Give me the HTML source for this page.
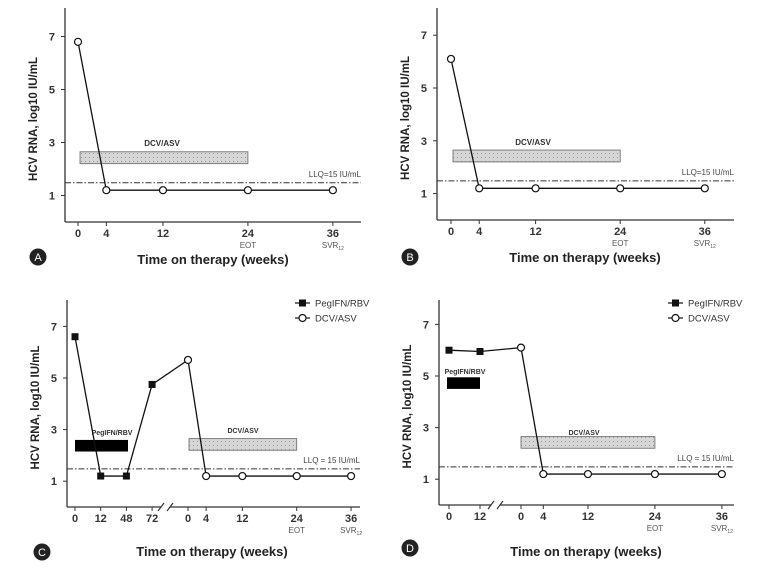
<!DOCTYPE html>
<html><head><meta charset="utf-8">
<style>
html,body{margin:0;padding:0;background:#fff;}
svg{display:block;font-family:"Liberation Sans",Arial,sans-serif;}
</style></head>
<body>
<svg id="fig" width="779" height="570" viewBox="0 0 779 570">
<defs>
<pattern id="hatch" width="4" height="4" patternUnits="userSpaceOnUse">
<rect width="4" height="4" fill="#d6d6d6"/><rect x="1" y="1" width="1" height="1" fill="#9a9a9a"/>
</pattern>
</defs>
</svg>
<script>
// ---- data ----
const yTicks = [1, 3, 5, 7];
const llqValue = 1.48;
// Panel A
const aWeeks = [0, 4, 12, 24, 36];
const aValues = [6.8, 1.2, 1.2, 1.2, 1.2];
// Panel B
const bWeeks = [0, 4, 12, 24, 36];
const bValues = [6.1, 1.2, 1.2, 1.2, 1.2];
// Panel C
const cPegLabels = ['0', '12', '48', '72'];
const cPegValues = [6.6, 1.2, 1.2, 4.75];
const cDcvWeeks = [0, 4, 12, 24, 36];
const cDcvValues = [5.7, 1.2, 1.2, 1.2, 1.2];
// Panel D
const dPegLabels = ['0', '12'];
const dPegValues = [6.0, 5.95];
const dDcvWeeks = [0, 4, 12, 24, 36];
const dDcvValues = [6.1, 1.2, 1.2, 1.2, 1.2];
const xTickWeeks = [0, 4, 12, 24, 36];

const NS = 'http://www.w3.org/2000/svg';
const svg = document.getElementById('fig');
function mk(tag, attrs, parent, text) {
  const e = document.createElementNS(NS, tag);
  for (const k in attrs) e.setAttribute(k, attrs[k]);
  if (text !== undefined) e.textContent = text;
  (parent || svg).appendChild(e);
  return e;
}

function panel(cfg) {
  const g = mk('g', {});
  
  
  const y = v => cfg.y0 - cfg.yu * v;
  const xw = w => cfg.dx0 + cfg.dxs * w;           // DCV weeks
  const xp = i => cfg.px0 + cfg.pxs * i;           // PegIFN categories
  // axes
  const ax = mk('line', {x1: cfg.ax, y1: cfg.top, x2: cfg.ax, y2: cfg.y0, stroke: '#333', 'stroke-width': 1.3}, g);
   
  if (cfg.brk) {
    const x1 = mk('line', {x1: cfg.ax, y1: cfg.y0, x2: cfg.brk[0], y2: cfg.y0, stroke: '#333', 'stroke-width': 1.3}, g);
     
    mk('line', {x1: cfg.brk[1], y1: cfg.y0, x2: cfg.axEnd, y2: cfg.y0, stroke: '#333', 'stroke-width': 1.3}, g);
    const bk = mk('g', {}, g);
     
    mk('line', {x1: cfg.brk[0] - 3, y1: cfg.y0 + 4, x2: cfg.brk[0] + 3, y2: cfg.y0 - 4, stroke: '#333', 'stroke-width': 1.2}, bk);
    mk('line', {x1: cfg.brk[1] - 3, y1: cfg.y0 + 4, x2: cfg.brk[1] + 3, y2: cfg.y0 - 4, stroke: '#333', 'stroke-width': 1.2}, bk);
  } else {
    const x1 = mk('line', {x1: cfg.ax, y1: cfg.y0, x2: cfg.axEnd, y2: cfg.y0, stroke: '#333', 'stroke-width': 1.3}, g);
     
  }
  // y ticks
  yTicks.forEach(v => {
    mk('line', {x1: cfg.ax - 4, y1: y(v), x2: cfg.ax, y2: y(v), stroke: '#333'}, g);
    const t = mk('text', {x: cfg.ax - 10, y: y(v) + 4, 'text-anchor': 'end', 'font-size': 11, 'font-weight': 'bold', fill: '#333'}, g, String(v));
     
  });
  const yt = mk('text', {transform: `translate(${cfg.ax - 28},${(cfg.top + cfg.y0) / 2 + 4}) rotate(-90)`, 'text-anchor': 'middle', 'font-size': 11.5, 'font-weight': 'bold', fill: '#222'}, g, 'HCV RNA, log10 IU/mL');
   
  // x ticks
  const tickY = cfg.y0 + 15;
  if (cfg.pegLabels) cfg.pegLabels.forEach((l, i) => {
    mk('line', {x1: xp(i), y1: cfg.y0, x2: xp(i), y2: cfg.y0 + 4, stroke: '#333'}, g);
    const t = mk('text', {x: xp(i), y: tickY, 'text-anchor': 'middle', 'font-size': 11, 'font-weight': 'bold', fill: '#333'}, g, l);
     
  });
  xTickWeeks.forEach(w => {
    mk('line', {x1: xw(w), y1: cfg.y0, x2: xw(w), y2: cfg.y0 + 4, stroke: '#333'}, g);
    const t = mk('text', {x: xw(w), y: tickY, 'text-anchor': 'middle', 'font-size': 11, 'font-weight': 'bold', fill: '#333'}, g, String(w));
     
  });
  const eot = mk('text', {x: xw(24), y: tickY + 11, 'text-anchor': 'middle', 'font-size': 8, fill: '#555'}, g, 'EOT');
   
  const svr = mk('text', {x: xw(36), y: tickY + 11, 'text-anchor': 'middle', 'font-size': 8, fill: '#555'}, g);
   
  mk('tspan', {}, svr, 'SVR');
  mk('tspan', {'font-size': 5, dy: 2}, svr, '12');
  const xt = mk('text', {x: cfg.titleX, y: cfg.titleY, 'text-anchor': 'middle', 'font-size': 13, 'font-weight': 'bold', fill: '#222'}, g, 'Time on therapy (weeks)');
   
  // panel badge
  const bg = mk('g', {}, g);
   
  mk('circle', {cx: cfg.badge[0], cy: cfg.badge[1], r: 8.5, fill: '#222'}, bg);
  mk('text', {x: cfg.badge[0], y: cfg.badge[1] + 4, 'text-anchor': 'middle', 'font-size': 11, fill: '#fff'}, bg, cfg.letter);
  // treatment bars
  if (cfg.pegBar) {
    const r = mk('rect', {x: cfg.pegBar[0], y: y(cfg.pegBar[2]), width: cfg.pegBar[1] - cfg.pegBar[0], height: y(cfg.pegBar[3]) - y(cfg.pegBar[2]), fill: '#000'}, g);
     
    const t = mk('text', {x: cfg.pegLbl[0], y: cfg.pegLbl[1], 'text-anchor': 'middle', 'font-size': 7, 'font-weight': 'bold', fill: '#333'}, g, 'PegIFN/RBV');
     
  }
  const db = mk('rect', {x: cfg.dcvBar[0], y: y(2.65), width: xw(24) - cfg.dcvBar[0], height: y(2.2) - y(2.65), fill: 'url(#hatch)', stroke: '#666', 'stroke-width': 0.8}, g);
   
  const dt = mk('text', {x: cfg.dcvLbl[0], y: cfg.dcvLbl[1], 'text-anchor': 'middle', 'font-size': cfg.dcvFs, 'font-weight': 'bold', fill: '#333'}, g, 'DCV/ASV');
   
  // LLQ line
  const ll = mk('line', {x1: cfg.ax, y1: y(llqValue), x2: cfg.axEnd, y2: y(llqValue), stroke: '#333', 'stroke-width': 1, 'stroke-dasharray': '6,2,1.5,2'}, g);
   
  const lt = mk('text', {x: cfg.axEnd, y: y(llqValue) - 6, 'text-anchor': 'end', 'font-size': 8, fill: '#444'}, g, cfg.llqText);
   
  // series
  let pts = [];
  if (cfg.pegValues) cfg.pegValues.forEach((v, i) => pts.push([xp(i), y(v)]));
  cfg.dcvWeeks.forEach((w, i) => pts.push([xw(w), y(cfg.dcvValues[i])]));
  const pl = mk('polyline', {points: pts.map(p => p.join(',')).join(' '), fill: 'none', stroke: '#111', 'stroke-width': 1.3}, g);
   
  if (cfg.pegValues) cfg.pegValues.forEach((v, i) => {
    const s = mk('rect', {x: xp(i) - 3.5, y: y(v) - 3.5, width: 7, height: 7, fill: '#111'}, g);
     
  });
  cfg.dcvWeeks.forEach((w, i) => {
    const c = mk('circle', {cx: xw(w), cy: y(cfg.dcvValues[i]), r: 3.5, fill: '#fff', stroke: '#111', 'stroke-width': 1.2}, g);
     
  });
  // legend
  if (cfg.legend) {
    const L = mk('g', {}, g);
     
    const [lx, ly] = cfg.legend;
    const e1 = mk('g', {}, L);
     
    mk('line', {x1: lx, y1: ly, x2: lx + 15, y2: ly, stroke: '#111', 'stroke-width': 1.2}, e1);
    mk('rect', {x: lx + 4, y: ly - 3.5, width: 7, height: 7, fill: '#111'}, e1);
    mk('text', {x: lx + 20, y: ly + 3.5, 'font-size': 9.5, fill: '#333'}, e1, 'PegIFN/RBV');
    const e2 = mk('g', {}, L);
     
    mk('line', {x1: lx, y1: ly + 15, x2: lx + 15, y2: ly + 15, stroke: '#111', 'stroke-width': 1.2}, e2);
    mk('circle', {cx: lx + 7.5, cy: ly + 15, r: 3.5, fill: '#fff', stroke: '#111', 'stroke-width': 1.2}, e2);
    mk('text', {x: lx + 20, y: ly + 18.5, 'font-size': 9.5, fill: '#333'}, e2, 'DCV/ASV');
  }
}

panel({letter: 'A', ax: 65, top: 8, y0: 222, yu: 26.5, axEnd: 361,
  dx0: 78, dxs: 7.08, dcvWeeks: aWeeks, dcvValues: aValues,
  dcvBar: [80], dcvLbl: [162, 146], dcvFs: 8, llqText: 'LLQ=15 IU/mL',
  titleX: 213, titleY: 264, badge: [38, 257]});
panel({letter: 'B', ax: 437, top: 8, y0: 220, yu: 26.4, axEnd: 734,
  dx0: 451, dxs: 7.05, dcvWeeks: bWeeks, dcvValues: bValues,
  dcvBar: [453], dcvLbl: [533, 145], dcvFs: 8, llqText: 'LLQ=15 IU/mL',
  titleX: 585, titleY: 262, badge: [410, 257]});
panel({letter: 'C', ax: 67, top: 300, y0: 507, yu: 25.8, axEnd: 360,
  px0: 75, pxs: 25.7, pegLabels: cPegLabels, pegValues: cPegValues,
  dx0: 188, dxs: 4.53, dcvWeeks: cDcvWeeks, dcvValues: cDcvValues, brk: [161, 170],
  pegBar: [75, 128, 2.6, 2.15], pegLbl: [112, 435],
  dcvBar: [189], dcvLbl: [243, 433], dcvFs: 7, llqText: 'LLQ = 15  IU/mL',
  legend: [295, 303], titleX: 212, titleY: 556, badge: [42, 552]});
panel({letter: 'D', ax: 439, top: 300, y0: 505, yu: 25.8, axEnd: 734,
  px0: 449, pxs: 31, pegLabels: dPegLabels, pegValues: dPegValues,
  dx0: 521, dxs: 5.58, dcvWeeks: dDcvWeeks, dcvValues: dDcvValues, brk: [491, 500],
  pegBar: [447, 480, 4.95, 4.5], pegLbl: [465, 374],
  dcvBar: [521], dcvLbl: [584, 435], dcvFs: 7, llqText: 'LLQ = 15  IU/mL',
  legend: [668, 303], titleX: 586, titleY: 556, badge: [410, 548]});
</script>
</body></html>
